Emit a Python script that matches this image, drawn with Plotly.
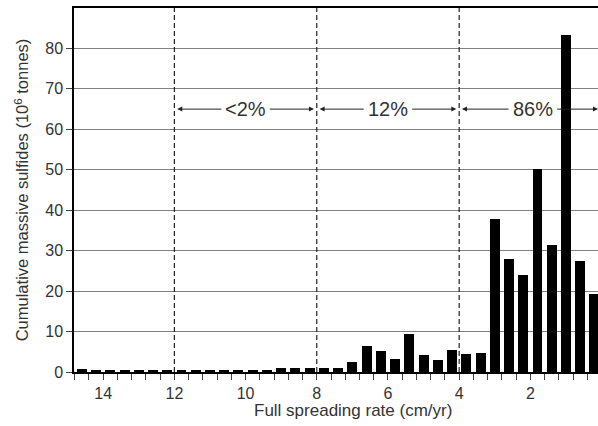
import plotly.graph_objects as go

# Bin centres of full spreading rate (cm/yr), 0.4 cm/yr bins
rates = [14.6, 14.2, 13.8, 13.4, 13.0, 12.6, 12.2, 11.8, 11.4, 11.0, 10.6, 10.2,
         9.8, 9.4, 9.0, 8.6, 8.2, 7.8, 7.4, 7.0, 6.6, 6.2, 5.8, 5.4, 5.0, 4.6,
         4.2, 3.8, 3.4, 3.0, 2.6, 2.2, 1.8, 1.4, 1.0, 0.6, 0.2]
# Cumulative massive sulfides (10^6 tonnes)
tonnage = [0.8, 0.3, 0.3, 0.3, 0.3, 0.3, 0.3, 0.3, 0.3, 0.3, 0.3, 0.3,
           0.3, 0.3, 1.0, 1.0, 1.0, 1.0, 1.1, 2.5, 6.4, 5.2, 3.2, 9.3, 4.2, 3.0,
           5.4, 4.4, 4.6, 37.9, 27.9, 24.0, 50.1, 31.5, 83.3, 27.4, 19.3]

# Spreading-rate class boundaries and share labels
boundaries = [12, 8, 4]
class_labels = ["<2%", "12%", "86%"]
class_label_x = [10, 6, 1.93]
class_ranges = [(12, 8), (8, 4), (4, 0.1)]
label_level = 65

xtick_vals = [14, 12, 10, 8, 6, 4, 2]
ytick_vals = [0, 10, 20, 30, 40, 50, 60, 70, 80]

FONT = "Liberation Sans, Arial, Helvetica, sans-serif"
TXT = "#333333"

fig = go.Figure()
fig.add_trace(go.Bar(x=rates, y=tonnage, width=0.28,
                     marker=dict(color="black", line=dict(width=0))))

shapes = []
for b in boundaries:
    shapes.append(dict(type="line", xref="x", yref="paper", x0=b, x1=b, y0=0, y1=1,
                       line=dict(color="#222222", width=1.2, dash="5px,3px"), layer="above"))

annotations = []
half_gap = 0.64
for lab, lx, (a, b) in zip(class_labels, class_label_x, class_ranges):
    annotations.append(dict(x=lx, y=label_level, xref="x", yref="y", text=lab,
                            showarrow=False, font=dict(family=FONT, size=20, color=TXT)))
    annotations.append(dict(x=a - 0.08, y=label_level, ax=lx + half_gap, ay=label_level,
                            xref="x", yref="y", axref="x", ayref="y", text="",
                            showarrow=True, arrowhead=2, arrowsize=1.0, arrowwidth=1,
                            arrowcolor="#222222", standoff=0, startstandoff=0))
    annotations.append(dict(x=b + (0.08 if b > 0.5 else 0.0), y=label_level, ax=lx - half_gap,
                            ay=label_level, xref="x", yref="y", axref="x", ayref="y", text="",
                            showarrow=True, arrowhead=2, arrowsize=1.0, arrowwidth=1,
                            arrowcolor="#222222", standoff=0, startstandoff=0))

annotations.append(dict(x=(353 - 74) / (598 - 74), y=-0.107, xref="paper", yref="paper",
                        text="Full spreading rate (cm/yr)", showarrow=False,
                        xanchor="center", yanchor="middle",
                        font=dict(family=FONT, size=17, color=TXT)))

fig.update_layout(
    width=598, height=426,
    margin=dict(l=74, r=0, t=8, b=54),
    paper_bgcolor="white", plot_bgcolor="white",
    showlegend=False, bargap=0,
    font=dict(family=FONT, size=16, color=TXT),
    shapes=shapes, annotations=annotations,
    xaxis=dict(range=[14.82, 0.1], tickvals=xtick_vals, ticktext=[str(v) for v in xtick_vals],
               ticks="outside", ticklen=6, tickcolor="#444", tickwidth=1,
               minor=dict(dtick=0.4, tick0=0, ticks="outside", ticklen=6, tickcolor="#444",
                          showgrid=False),
               showline=True, linecolor="black", linewidth=1.5, mirror=True,
               showgrid=False, zeroline=False,
               tickfont=dict(family=FONT, size=16, color=TXT)),
    yaxis=dict(range=[0, 90], tickvals=ytick_vals, ticks="outside", ticklen=6,
               tickcolor="#444", showline=True, linecolor="black", linewidth=1.5,
               showgrid=True, gridcolor="#808080", gridwidth=1, zeroline=False,
               title=dict(text="Cumulative massive sulfides (10<sup>6</sup> tonnes)",
                          font=dict(family=FONT, size=16.5, color=TXT), standoff=12),
               tickfont=dict(family=FONT, size=16, color=TXT)),
)

fig.write_html("out.html", config={"displayModeBar": False},
               post_script="document.body.style.margin='0';document.body.style.padding='0';")
